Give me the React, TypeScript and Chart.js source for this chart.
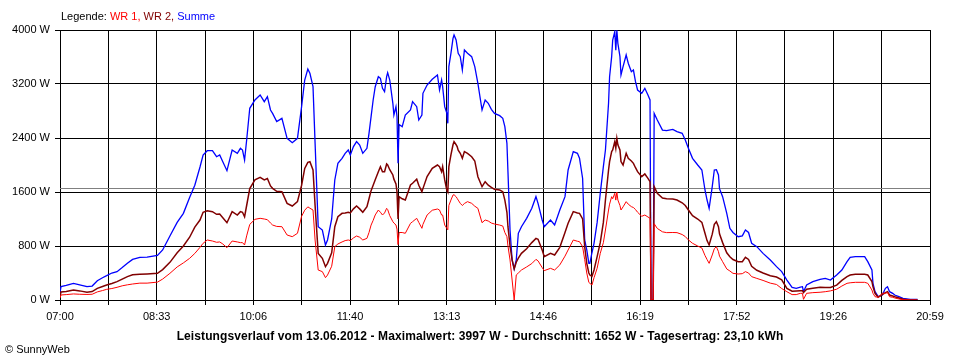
import React, { useEffect, useRef } from "react";
import { Chart, registerables } from "chart.js";

Chart.register(...registerables);

// minutes after 07:00
const minutes = [
  0, 1, 6, 13, 19, 26, 31, 36, 41, 45, 50, 55, 60, 65, 70, 77, 84, 94, 99, 106,
  113, 119, 125, 130, 135, 138, 142, 147, 151, 154, 157, 161, 166, 171, 174, 176, 178, 180, 183, 188,
  193, 197, 200, 203, 205, 209, 214, 219, 224, 229, 233, 236, 239, 241, 244, 246, 249, 253, 256, 258,
  262, 265, 268, 272, 275, 278, 280, 283, 286, 289, 292, 296, 298, 300, 302, 304, 307, 309, 311, 313,
  315, 316, 318, 321, 322, 324, 325, 326, 327, 330, 333, 338, 340, 344, 346, 349, 350, 354, 359, 364,
  366, 368, 369, 371, 373, 374, 375, 377, 379, 380, 382, 383, 384, 386, 388, 390, 393, 397, 400, 403,
  407, 410, 413, 416, 419, 424, 427, 429, 431, 432, 434, 436, 438, 440, 442, 445, 450, 455, 459, 461,
  465, 467, 473, 477, 482, 487, 490, 495, 499, 501, 504, 506, 508, 510, 511, 513, 515, 518, 521, 524,
  526, 529, 530, 532, 533, 535, 536, 537, 538, 540, 541, 543, 546, 548, 551, 553, 555, 557, 561, 564,
  567, 569, 570, 572, 573, 576, 581, 585, 591, 595, 600, 603, 606, 610, 615, 619, 622, 624, 626, 629, 631,
  633, 635, 636, 639, 643, 646, 649, 654, 658, 661, 664, 667, 672, 678, 685, 691, 696, 701, 706, 710,
  714, 716, 717, 720, 726, 733, 738, 743, 749, 754, 759, 762, 767, 776, 779, 783, 784, 786, 789, 793,
  796, 798, 800, 803, 805, 809, 813, 820, 827,
];

const summe = [
  110, 200, 215, 247, 225, 197, 207, 286, 330, 360, 400, 420, 480, 543, 602, 632, 635, 660, 741, 948,
  1150, 1284, 1520, 1700, 1970, 2148, 2212, 2212, 2123, 2148, 2049, 1916, 2222, 2173, 2247, 2222, 2074, 2370, 2840, 2963,
  3037, 2938, 3012, 2815, 2765, 2642, 2691, 2395, 2331, 2395, 2864, 3259, 3420, 3358, 3160, 2321, 1086, 1037, 815, 889,
  1200, 1778, 2025, 2099, 2173, 2222, 2148, 2272, 2346, 2296, 2173, 2247, 2469, 2716, 2963, 3160, 3308, 3284, 3136, 3086,
  3308, 3368, 3259, 2914, 2741, 2864, 2716, 2025, 2600, 2568, 2741, 2815, 2938, 2864, 2667, 2741, 3062, 3185, 3269, 3333,
  3111, 3259, 3160, 2864, 2770, 2617, 3457, 3655, 3877, 3926, 3852, 3753, 3655, 3605, 3407, 3704, 3655, 3605, 3457, 3210,
  2815, 2963, 2914, 2825, 2765, 2731, 2691, 2568, 2321, 1900, 1037, 593, 460, 593, 988, 1086, 1210, 1358, 1531, 1432,
  1185, 1086, 1185, 1111, 1333, 1531, 1926, 2198, 2173, 2100, 1800, 889, 741, 543, 543, 700, 840, 1150, 1580, 1975,
  2222, 2914, 3308, 3605, 3852, 3975, 3700, 3997, 3802, 3605, 3333, 3457, 3630, 3507, 3383, 3407, 3234, 3111, 3062, 3136,
  3037, 2963, 0, 0, 2765, 2667, 2518, 2509, 2528, 2494, 2469, 2370, 2247, 2099, 2000, 1926, 1630, 1481, 1358, 1679, 1926,
  1930, 1852, 1650, 1531, 1284, 1062, 1000, 938, 950, 1037, 1000, 840, 790, 691, 593, 494, 420, 296, 188, 173,
  190, 197, 123, 222, 272, 306, 321, 296, 370, 444, 568, 632, 642, 642, 568, 444, 247, 123, 49, 74,
  173, 197, 123, 99, 74, 49, 25, 10, 10,
];

const wr2 = [
  60, 120, 125, 148, 135, 115, 125, 173, 200, 222, 245, 272, 310, 346, 375, 380, 385, 395, 450, 558,
  700, 800, 930, 1080, 1185, 1300, 1323, 1309, 1270, 1274, 1220, 1145, 1309, 1259, 1309, 1300, 1234, 1400, 1650, 1780,
  1817, 1780, 1800, 1690, 1654, 1610, 1605, 1432, 1392, 1457, 1700, 1950, 2040, 2049, 1926, 1400, 691, 617, 494, 543,
  700, 1086, 1234, 1284, 1290, 1300, 1290, 1350, 1392, 1350, 1300, 1383, 1500, 1620, 1700, 1780, 1900, 1975, 1901, 1900,
  2015, 2000, 1930, 1852, 1790, 1720, 1600, 1200, 1531, 1500, 1481, 1704, 1730, 1790, 1700, 1605, 1650, 1830, 1951, 2000,
  1975, 1901, 1975, 1778, 1630, 1600, 1975, 2150, 2300, 2346, 2300, 2272, 2220, 2173, 2100, 2198, 2173, 2123, 2060, 1827,
  1679, 1753, 1700, 1670, 1640, 1630, 1605, 1481, 1300, 1086, 800, 593, 460, 560, 620, 691, 760, 850, 913, 900,
  740, 642, 691, 667, 780, 1000, 1136, 1309, 1290, 1284, 1200, 790, 543, 400, 370, 350, 444, 642, 850, 1150,
  1481, 1926, 2050, 2200, 2222, 2346, 2250, 2395, 2300, 2222, 2050, 2000, 2173, 2099, 2060, 2025, 1960, 1901, 1827, 1867,
  1802, 1753, 0, 0, 1680, 1580, 1510, 1500, 1496, 1481, 1440, 1400, 1333, 1250, 1200, 1150, 988, 880, 815, 975, 1120,
  1160, 1086, 980, 850, 700, 640, 600, 568, 568, 632, 600, 500, 440, 400, 360, 340, 300, 173, 130, 135,
  138, 138, 110, 160, 173, 188, 185, 185, 220, 290, 346, 370, 380, 380, 370, 272, 200, 99, 40, 80,
  110, 123, 74, 60, 49, 30, 10, 0, 0,
];

const wr1 = [
  30, 75, 80, 90, 85, 82, 85, 120, 140, 158, 170, 188, 210, 225, 237, 250, 250, 265, 310, 395,
  490, 550, 617, 690, 780, 840, 889, 874, 855, 860, 830, 775, 874, 860, 850, 850, 815, 950, 1120, 1195,
  1210, 1200, 1190, 1140, 1111, 1090, 1086, 963, 938, 988, 1240, 1330, 1380, 1360, 1333, 889, 444, 420, 331, 370,
  500, 790, 830, 860, 880, 889, 880, 920, 948, 930, 889, 913, 1000, 1110, 1180, 1260, 1333, 1300, 1259, 1290,
  1358, 1340, 1250, 1160, 1140, 1111, 1050, 820, 1000, 1000, 988, 1136, 1160, 1210, 1150, 1062, 1120, 1259, 1330, 1348,
  1333, 1259, 1259, 1111, 1062, 1040, 1400, 1481, 1555, 1560, 1530, 1506, 1480, 1432, 1400, 1430, 1457, 1432, 1390, 1358,
  1145, 1185, 1170, 1140, 1126, 1110, 1096, 1000, 938, 800, 593, 296, 0, 370, 400, 444, 490, 540, 602, 580,
  480, 435, 469, 444, 520, 650, 741, 889, 870, 864, 790, 600, 400, 260, 247, 222, 330, 470, 691, 850,
  1037, 1333, 1420, 1531, 1500, 1580, 1480, 1600, 1481, 1400, 1333, 1380, 1457, 1420, 1383, 1370, 1340, 1300, 1240, 1259,
  1230, 1210, 0, 0, 1130, 1060, 1010, 998, 1000, 998, 970, 940, 890, 840, 800, 770, 660, 600, 543, 667, 760,
  790, 716, 650, 568, 460, 430, 395, 385, 390, 420, 400, 346, 320, 290, 250, 230, 170, 123, 80, 80,
  99, 99, 10, 99, 109, 115, 123, 135, 160, 207, 247, 255, 262, 262, 247, 148, 100, 49, 40, 100,
  100, 110, 49, 40, 30, 15, 5, 0, 0,
];

const timeLabels = ["07:00", "08:33", "10:06", "11:40", "13:13", "14:46", "16:19", "17:52", "19:26", "20:59"];
const powerTicks = [0, 800, 1600, 2400, 3200, 4000];
const average = 1652;
const spanMinutes = 839;
const gridSteps = 18;

const titleText =
  "Leistungsverlauf vom 13.06.2012 - Maximalwert: 3997 W - Durchschnitt: 1652 W - Tagesertrag: 23,10 kWh";

const FONT = "'Liberation Sans', Arial, sans-serif";

export default function App() {
  const canvasRef = useRef<HTMLCanvasElement | null>(null);

  useEffect(() => {
    const canvas = canvasRef.current;
    if (!canvas) return;
    const toPoints = (vals: number[]) => minutes.map((m, i) => ({ x: m, y: vals[i] }));

    const averageLine = {
      id: "averageLine",
      beforeDatasetsDraw(chart: any) {
        const { ctx, chartArea, scales } = chart;
        const y = Math.round(scales.y.getPixelForValue(average)) + 0.5;
        ctx.save();
        ctx.strokeStyle = "#808080";
        ctx.lineWidth = 1;
        ctx.beginPath();
        ctx.moveTo(chartArea.left, y);
        ctx.lineTo(chartArea.right, y);
        ctx.stroke();
        ctx.restore();
      },
    };

    const chart = new Chart(canvas, {
      type: "line",
      data: {
        datasets: [
          { label: "WR 1", data: toPoints(wr1), borderColor: "#ff0000", borderWidth: 1 },
          { label: "WR 2", data: toPoints(wr2), borderColor: "#800000", borderWidth: 1.5 },
          { label: "Summe", data: toPoints(summe), borderColor: "#0000ff", borderWidth: 1.3 },
        ],
      },
      options: {
        animation: false,
        responsive: false,
        maintainAspectRatio: false,
        elements: { point: { radius: 0 }, line: { tension: 0, fill: false } },
        layout: { padding: { top: 30, right: 30, left: 0, bottom: 0 } },
        plugins: { legend: { display: false }, title: { display: false }, tooltip: { enabled: false } },
        scales: {
          x: {
            type: "linear",
            min: 0,
            max: spanMinutes,
            afterBuildTicks: (scale: any) => {
              const t = [];
              for (let i = 0; i <= gridSteps; i++) t.push({ value: (i * spanMinutes) / gridSteps });
              scale.ticks = t;
            },
            afterFit: (scale: any) => {
              scale.height = 60;
            },
            ticks: {
              autoSkip: false,
              maxRotation: 0,
              padding: 5,
              color: "#000",
              font: { family: FONT, size: 11 },
              callback: (_v: any, index: number) => (index % 2 === 0 ? timeLabels[index / 2] : ""),
            },
            grid: { color: "#000", lineWidth: 1, tickLength: 5, drawTicks: true },
            border: { display: true, color: "#000" },
          },
          y: {
            type: "linear",
            min: 0,
            max: 4000,
            afterBuildTicks: (scale: any) => {
              scale.ticks = powerTicks.map((v) => ({ value: v }));
            },
            afterFit: (scale: any) => {
              scale.width = 60;
            },
            ticks: {
              padding: 5,
              color: "#000",
              font: { family: FONT, size: 11 },
              callback: (v: any) => `${v} W`,
            },
            grid: { color: "#000", lineWidth: 1, tickLength: 5, drawTicks: true },
            border: { display: true, color: "#000" },
          },
        },
      },
      plugins: [averageLine],
    });
    return () => chart.destroy();
  }, []);

  return (
    <div
      style={{
        position: "absolute",
        left: 0,
        top: 0,
        width: 960,
        height: 360,
        background: "#fff",
        fontFamily: FONT,
        overflow: "hidden",
      }}
    >
      <canvas ref={canvasRef} width={960} height={360} style={{ position: "absolute", left: 0, top: 0 }} />
      <div style={{ position: "absolute", left: 61, top: 10, fontSize: 11, lineHeight: "13px", whiteSpace: "nowrap" }}>
        <span style={{ color: "#000" }}>Legende: </span>
        <span style={{ color: "#ff0000" }}>WR 1, </span>
        <span style={{ color: "#800000" }}>WR 2, </span>
        <span style={{ color: "#0000ff" }}>Summe</span>
      </div>
      <div
        style={{
          position: "absolute",
          left: 0,
          width: 960,
          top: 329,
          textAlign: "center",
          fontSize: 12,
          fontWeight: "bold",
          letterSpacing: "0.1px",
          lineHeight: "14px",
          whiteSpace: "nowrap",
          color: "#000",
        }}
      >
        {titleText}
      </div>
      <div style={{ position: "absolute", left: 5, top: 343, fontSize: 11, lineHeight: "13px", color: "#000" }}>
        © SunnyWeb
      </div>
    </div>
  );
}
